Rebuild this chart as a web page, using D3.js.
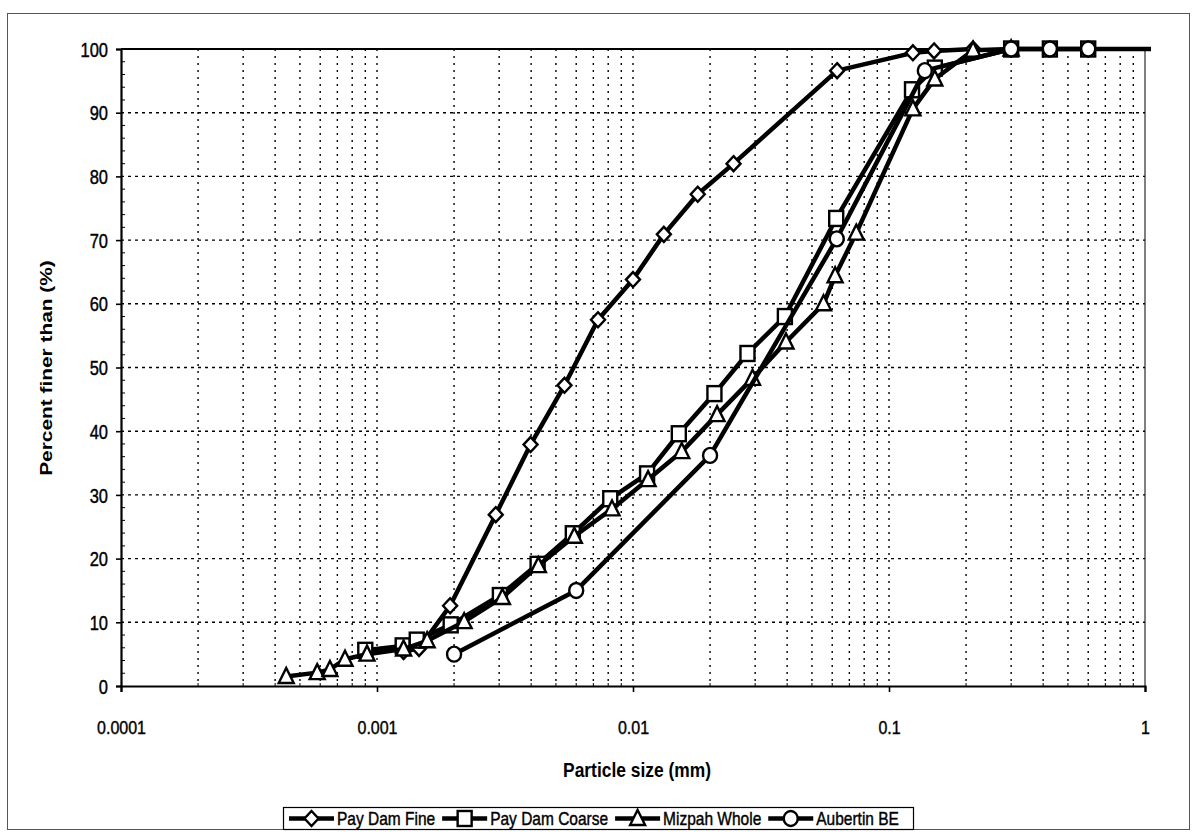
<!DOCTYPE html>
<html>
<head>
<meta charset="utf-8">
<script src="https://cdn.jsdelivr.net/npm/d3@7/dist/d3.min.js"></script>
<style>
  html, body { margin: 0; padding: 0; background: #fff; }
  svg { display: block; }
  text { font-family: "Liberation Sans", Arial, sans-serif; fill: #000; }
  .label { stroke: #000; stroke-width: 0.35px; }
</style>
</head>
<body>
<svg id="chart" width="1194" height="832"></svg>
<script>
// Grain-size distribution curves (percent finer vs particle size, log scale)
const payDamFineSize = [0.00127, 0.00146, 0.00193, 0.00291, 0.00398, 0.0054, 0.0073, 0.0100, 0.0132, 0.0179, 0.0247, 0.0627, 0.124, 0.150, 0.213];
const payDamFinePct  = [5.4, 5.9, 12.6, 26.9, 37.9, 47.2, 57.5, 63.8, 70.9, 77.2, 82.0, 96.6, 99.4, 99.7, 100];

const payDamCoarseSize = [0.0009, 0.00126, 0.00143, 0.00194, 0.00302, 0.00424, 0.00582, 0.00815, 0.01135, 0.0151, 0.0208, 0.028, 0.0392, 0.0622, 0.123, 0.151, 0.3, 0.425, 0.6, 2];
const payDamCoarsePct  = [5.6, 6.3, 7.2, 9.6, 14.2, 19.1, 23.9, 29.4, 33.3, 39.6, 45.9, 52.2, 58.0, 73.4, 93.6, 97.0, 100, 100, 100, 100];

const mizpahSize = [0.000442, 0.000584, 0.000655, 0.00075, 0.000914, 0.00127, 0.00157, 0.00219, 0.00309, 0.00427, 0.0059, 0.00828, 0.01145, 0.0155, 0.0213, 0.0293, 0.0396, 0.0555, 0.0616, 0.0745, 0.124, 0.151, 0.213, 0.3];
const mizpahPct  = [1.5, 2.1, 2.6, 4.2, 5.0, 5.8, 7.1, 10.1, 13.9, 18.9, 23.5, 27.8, 32.4, 36.8, 42.6, 48.3, 54.0, 60.0, 64.4, 71.1, 90.6, 95.3, 99.8, 100];

const aubertinSize = [0.002, 0.006, 0.020, 0.0625, 0.138, 0.3, 0.425, 0.6];
const aubertinPct  = [5.0, 15.0, 36.2, 70.2, 96.6, 100, 100, 100];

const seriesNames = ["Pay Dam Fine", "Pay Dam Coarse", "Mizpah Whole", "Aubertin BE"];
const seriesShapes = ["diamond", "square", "triangle", "circle"];

const xTickValues = [0.0001, 0.001, 0.01, 0.1, 1];
const xTickLabels = ["0.0001", "0.001", "0.01", "0.1", "1"];
const yTickValues = [0, 10, 20, 30, 40, 50, 60, 70, 80, 90, 100];

const xTitle = "Particle size (mm)";
const yTitle = "Percent finer than (%)";

const series = [
  [payDamFineSize, payDamFinePct],
  [payDamCoarseSize, payDamCoarsePct],
  [mizpahSize, mizpahPct],
  [aubertinSize, aubertinPct]
].map(([xs, ys], i) => ({
  name: seriesNames[i],
  shape: seriesShapes[i],
  points: xs.map((x, j) => ({ x, y: ys[j] }))
}));

const svg = d3.select("#chart");
const plotLeft = 121, plotRight = 1145, plotTop = 49, plotBottom = 686;
const stretch = 1.2;   // glyphs are drawn taller than wide

const x = d3.scaleLog().domain([0.0001, 1]).range([plotLeft, plotRight]);
const y = d3.scaleLinear().domain([0, 100]).range([plotBottom, plotTop]);

// outer chart frame
svg.append("rect")
  .attr("x", 7.5).attr("y", 13.5)
  .attr("width", 1182).attr("height", 816)
  .attr("fill", "none").attr("stroke", "#555").attr("stroke-width", 1);

// minor vertical gridlines (2..9 of each decade) and major ones
const minorX = [];
for (let e = -4; e < 0; e++) {
  for (let m = 2; m <= 9; m++) minorX.push(m * Math.pow(10, e));
}
const grid = svg.append("g");
grid.selectAll("line.v").data(minorX.concat(xTickValues.slice(1, -1))).join("line")
  .attr("x1", d => x(d)).attr("x2", d => x(d))
  .attr("y1", plotTop).attr("y2", plotBottom)
  .attr("stroke", "#000").attr("stroke-width", 1.4)
  .attr("stroke-dasharray", "2,5");
grid.selectAll("line.h").data(yTickValues.slice(1, -1)).join("line")
  .attr("x1", plotLeft).attr("x2", plotRight)
  .attr("y1", d => y(d)).attr("y2", d => y(d))
  .attr("stroke", "#000").attr("stroke-width", 1.4)
  .attr("stroke-dasharray", "3,4");

// plot area border on top and right
svg.append("line").attr("x1", plotLeft).attr("x2", plotRight + 4).attr("y1", plotTop).attr("y2", plotTop)
  .attr("stroke", "#000").attr("stroke-width", 1.8);
svg.append("line").attr("x1", plotRight).attr("x2", plotRight).attr("y1", plotTop).attr("y2", plotBottom)
  .attr("stroke", "#000").attr("stroke-width", 1);

// axes
const xAxis = d3.axisBottom(x).tickValues(xTickValues)
  .tickFormat((d, i) => xTickLabels[i]).tickSize(6);
const gx = svg.append("g").attr("transform", `translate(0,${plotBottom})`).call(xAxis);
gx.select(".domain").attr("stroke-width", 2.2);
gx.selectAll(".tick line").attr("stroke-width", 1.6);
gx.selectAll(".tick text")
  .attr("class", "label")
  .attr("y", null).attr("dy", "0.36em")
  .attr("transform", `translate(0,41) scale(1,${stretch})`)
  .attr("font-size", 16).attr("font-family", "Liberation Sans, Arial, sans-serif");
// minor x ticks pointing inward
svg.append("g").selectAll("line").data(minorX).join("line")
  .attr("x1", d => x(d)).attr("x2", d => x(d))
  .attr("y1", plotBottom).attr("y2", plotBottom - 3)
  .attr("stroke", "#000").attr("stroke-width", 1);

const yAxis = d3.axisLeft(y).tickValues(yTickValues).tickSize(5).tickPadding(8);
const gy = svg.append("g").attr("transform", `translate(${plotLeft},0)`).call(yAxis);
gy.select(".domain").attr("stroke-width", 2.2);
gy.selectAll(".tick line").attr("stroke-width", 1.6);
gy.selectAll(".tick text")
  .attr("class", "label")
  .attr("dy", "0.36em")
  .attr("transform", `scale(1,${stretch})`)
  .attr("font-size", 16.5).attr("font-family", "Liberation Sans, Arial, sans-serif");
// minor y ticks every 2 %
svg.append("g").selectAll("line").data(d3.range(2, 100, 2).filter(v => v % 10 !== 0)).join("line")
  .attr("x1", plotLeft).attr("x2", plotLeft + 4)
  .attr("y1", d => y(d)).attr("y2", d => y(d))
  .attr("stroke", "#000").attr("stroke-width", 1);

// axis titles
svg.append("text")
  .attr("transform", `translate(637,769) scale(1,${stretch})`)
  .attr("dy", "0.36em")
  .attr("text-anchor", "middle").attr("font-size", 17.4).attr("font-weight", "bold")
  .text(xTitle);
svg.append("text")
  .attr("transform", `translate(46,368) rotate(-90) scale(${stretch},1)`)
  .attr("dy", "0.36em")
  .attr("text-anchor", "middle").attr("font-size", 17.4).attr("font-weight", "bold")
  .text(yTitle);

// markers
function drawMarker(g, shape) {
  if (shape === "diamond") {
    g.append("path").attr("d", "M0,-7.5L7,0L0,7.5L-7,0Z");
  } else if (shape === "square") {
    g.append("rect").attr("x", -7).attr("y", -7.5).attr("width", 14).attr("height", 15);
  } else if (shape === "triangle") {
    g.append("path").attr("d", "M0,-8.5L7.5,6.5L-7.5,6.5Z");
  } else {
    g.append("ellipse").attr("rx", 7).attr("ry", 7.5);
  }
  g.selectAll("*").attr("fill", "#fff").attr("stroke", "#000").attr("stroke-width", 2.4);
}

svg.append("clipPath").attr("id", "plotClip")
  .append("rect").attr("x", plotLeft - 10).attr("y", plotTop - 12)
  .attr("width", plotRight - plotLeft + 16).attr("height", plotBottom - plotTop + 24);

const line = d3.line().x(d => x(d.x)).y(d => y(d.y));
const plot = svg.append("g").attr("clip-path", "url(#plotClip)");

series.forEach(s => {
  const g = plot.append("g");
  g.append("path").datum(s.points).attr("d", line)
    .attr("fill", "none").attr("stroke", "#000").attr("stroke-width", 4.5)
    .attr("stroke-linejoin", "round");
  g.selectAll("g.m").data(s.points.filter(p => p.x <= 1)).join("g")
    .attr("transform", p => `translate(${x(p.x)},${y(p.y)})`)
    .each(function () { drawMarker(d3.select(this), s.shape); });
});

// legend
const legend = svg.append("g");
legend.append("rect").attr("x", 283.5).attr("y", 807.5).attr("width", 630).attr("height", 22)
  .attr("fill", "#fff").attr("stroke", "#000").attr("stroke-width", 1.2);
let lx = 289;
const legendY = 818.5;
series.forEach(s => {
  const g = legend.append("g").attr("transform", `translate(${lx},${legendY})`);
  g.append("line").attr("x1", 0).attr("x2", 45).attr("y1", 0).attr("y2", 0)
    .attr("stroke", "#000").attr("stroke-width", 4.5);
  drawMarker(g.append("g").attr("transform", "translate(22.5,0)"), s.shape);
  const t = g.append("text").attr("class", "label").attr("x", 48).attr("dy", "0.36em")
    .attr("transform", `scale(1,${stretch})`)
    .attr("font-size", 15.5).text(s.name);
  lx += 48 + t.node().getComputedTextLength() + 7;
});
</script>
</body>
</html>
